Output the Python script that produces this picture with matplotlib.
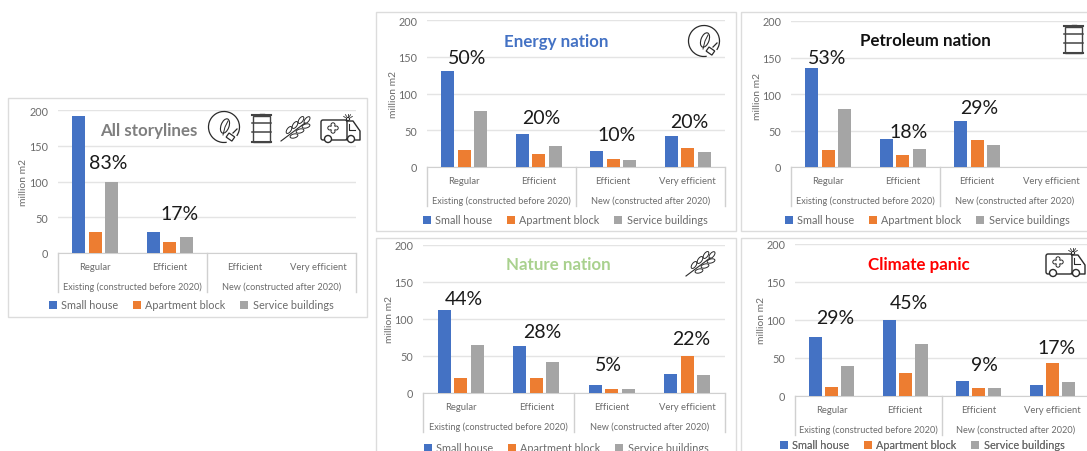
import matplotlib
matplotlib.use('Agg')
import matplotlib.pyplot as plt
from matplotlib.patches import Arc, Circle, Ellipse, FancyBboxPatch, Rectangle
import numpy as np

plt.rcParams['font.family'] = ['Lato', 'DejaVu Sans']

categories = ['Regular', 'Efficient', 'Efficient', 'Very efficient']
groups = ['Existing (constructed before 2020)', 'New (constructed after 2020)']
series_names = ['Small house', 'Apartment block', 'Service buildings']
yticks = [0, 50, 100, 150, 200]

all_small = [191, 29, 0, 0]
all_apartment = [30, 16, 0, 0]
all_service = [100, 22, 0, 0]
all_pct = ['83%', '17%']

energy_small = [131, 45, 21.5, 42.5]
energy_apartment = [23, 17.5, 11.5, 26]
energy_service = [76, 29, 10, 20]
energy_pct = ['50%', '20%', '10%', '20%']

petroleum_small = [136, 39, 63, 0]
petroleum_apartment = [23, 16, 37.5, 0]
petroleum_service = [80, 25, 30, 0]
petroleum_pct = ['53%', '18%', '29%']

nature_small = [112, 64, 10.5, 26]
nature_apartment = [20, 20.5, 5.5, 50]
nature_service = [65, 42, 5, 24]
nature_pct = ['44%', '28%', '5%', '22%']

panic_small = [78, 100, 20, 15]
panic_apartment = [12, 30, 10, 44]
panic_service = [40, 69, 10, 18]
panic_pct = ['29%', '45%', '9%', '17%']

colors = ['#4472C4', '#ED7D31', '#A5A5A5']
TEXT = '#6b6b6b'
DARK = '#2a2a2a'
W, H = 1087, 452

fig = plt.figure(figsize=(W / 100, H / 100), dpi=100)

# everything that is not a bar goes on this one, in pixel coordinates
over = fig.add_axes([0, 0, 1, 1], zorder=10)
over.set_xlim(0, W)
over.set_ylim(H, 0)
over.axis('off')
over.patch.set_alpha(0)


def leaf_icon(cx, cy):
    over.add_patch(Arc((cx, cy), 31, 31, theta1=80, theta2=395, color=DARK, lw=0.9))
    over.add_patch(Ellipse((cx + 1, cy - 1), 8, 15, angle=20, fc='white', ec=DARK, lw=0.8))
    over.plot([cx - 1, cx + 1, cx + 4], [cy + 8, cy, cy - 6], color=DARK, lw=0.7)
    over.add_patch(Rectangle((cx + 5, cy + 6), 7, 5, angle=35, fc='white', ec=DARK, lw=0.9))
    over.plot([cx + 9, cx + 13], [cy + 6, cy + 2], color=DARK, lw=0.9)


def barrel_icon(cx, cy):
    over.add_patch(Rectangle((cx - 8.5, cy - 12), 17, 26, fc='white', ec='#444444', lw=1))
    for dy, lw in [(-13, 1.5), (-5, 1.1), (4, 1.1), (14, 1.5)]:
        over.plot([cx - 9.5, cx + 9.5], [cy + dy, cy + dy], color='#444444', lw=lw)
    over.plot([cx - 1, cx + 3], [cy - 14.5, cy - 14.5], color='#444444', lw=1)


def wheat_icon(cx, cy):
    over.plot([cx - 15, cx + 9], [cy + 12, cy - 6], color=DARK, lw=0.8)
    for k in range(3):
        bx = cx - 6 + k * 6
        by = cy + 5 - k * 5
        over.add_patch(Ellipse((bx - 1, by - 4), 8, 4, angle=-55, fc='white', ec=DARK, lw=0.7))
        over.add_patch(Ellipse((bx + 4, by + 2), 8, 4, angle=-15, fc='white', ec=DARK, lw=0.7))
    over.add_patch(Ellipse((cx + 11, cy - 9), 8, 4, angle=-50, fc='white', ec=DARK, lw=0.7))


def ambulance_icon(cx, cy):
    over.add_patch(FancyBboxPatch((cx - 18, cy - 9), 26, 20, boxstyle='round,pad=0,rounding_size=2', fc='white', ec=DARK, lw=1))
    over.plot([cx + 8, cx + 14, cx + 21, cx + 21, cx + 8], [cy - 8, cy - 8, cy + 2, cy + 11, cy + 11], color=DARK, lw=1)
    over.plot([cx + 10, cx + 10, cx + 16], [cy - 5, cy + 1, cy + 1], color=DARK, lw=0.8)
    over.add_patch(Circle((cx - 11, cy + 10), 3.5, fc='white', ec=DARK, lw=1, zorder=3))
    over.add_patch(Circle((cx + 12, cy + 10), 3.5, fc='white', ec=DARK, lw=1, zorder=3))
    for dx, dy in [(0, -3.2), (0, 3.2), (-3.2, 0), (3.2, 0)]:
        over.add_patch(Circle((cx - 6 + dx, cy - 1 + dy), 2, fc='white', ec=DARK, lw=0.7))
    over.add_patch(Circle((cx - 6, cy - 1), 2.2, fc='white', ec='none', zorder=3))
    over.add_patch(Circle((cx + 9, cy - 10), 1.6, fc='white', ec=DARK, lw=0.8))
    for a in [-60, -90, -120, -30, -150]:
        over.plot([cx + 9 + 3 * np.cos(np.radians(a)), cx + 9 + 5 * np.cos(np.radians(a))],
                  [cy - 10 + 3 * np.sin(np.radians(a)), cy - 10 + 5 * np.sin(np.radians(a))], color=DARK, lw=0.6)


def draw_panel(small, apartment, service, pct, pct_xy, title, title_color, title_xy,
               frame, box, ylab_xy, legend_xy, icons):
    # frame and box are left, top, right, bottom in pixels
    over.add_patch(Rectangle((frame[0], frame[1]), frame[2] - frame[0], frame[3] - frame[1],
                             fc='none', ec='#dcdcdc', lw=1))
    left, top, right, bottom = box
    ax = fig.add_axes([left / W, 1 - bottom / H, (right - left) / W, (bottom - top) / H])
    x = np.arange(4)
    for i, vals in enumerate([small, apartment, service]):
        ax.bar(x + (i - 1) * 0.22, vals, 0.175, color=colors[i], label=series_names[i], zorder=3)
    ax.set_xlim(-0.5, 3.5)
    ax.set_ylim(0, 200)
    ax.set_yticks(yticks)
    ax.set_xticks(x)
    ax.set_xticklabels(categories, fontsize=6.8, color=TEXT)
    ax.tick_params(axis='x', length=0, pad=6.5)
    ax.tick_params(axis='y', length=0, pad=7, labelsize=7.8, labelcolor=TEXT)
    ax.grid(axis='y', color='#e4e4e4', lw=1, zorder=0)
    ax.set_axisbelow(True)
    for s in ['top', 'right', 'left']:
        ax.spines[s].set_visible(False)
    ax.spines['bottom'].set_color('#d0d0d0')

    # two level category axis
    mid = (left + right) / 2
    for vx in [left, mid, right]:
        over.plot([vx, vx], [bottom, bottom + 39], color='#d0d0d0', lw=1)
    over.text((left + mid) / 2, bottom + 33, groups[0], ha='center', va='center', fontsize=6.55, color=TEXT)
    over.text((mid + right) / 2, bottom + 33, groups[1], ha='center', va='center', fontsize=6.55, color=TEXT)

    over.text(ylab_xy[0] + 1.5, ylab_xy[1], 'million m2', rotation=90, ha='center', va='center', fontsize=7.4, color=TEXT)
    over.text(title_xy[0], title_xy[1] + 1.5, title, ha='center', va='center', fontsize=12.2, fontweight='bold', color=title_color)
    for label, (px, py) in zip(pct, pct_xy):
        over.text(px, py + 1, label, ha='center', va='center', fontsize=14, color='#1a1a1a')

    handles, labels = ax.get_legend_handles_labels()
    over.legend(handles, labels, loc='center', bbox_to_anchor=legend_xy, bbox_transform=over.transData,
                ncol=3, frameon=False, fontsize=7.8, labelcolor=TEXT, handlelength=0.75, handleheight=0.75,
                handletextpad=0.4, columnspacing=1.35, borderpad=0, borderaxespad=0)
    # more than one panel needs a legend on the overlay
    over.add_artist(over.get_legend())
    for func, cx, cy in icons:
        func(cx, cy)


draw_panel(all_small, all_apartment, all_service, all_pct,
           [(108, 163), (180, 214)],
           'All storylines', '#7f7f7f', (149, 130),
           (8, 99, 367, 318), (58, 111, 356, 254), (22, 183), (191, 306),
           [(leaf_icon, 224, 128), (barrel_icon, 261, 129), (wheat_icon, 296, 130), (ambulance_icon, 339, 130)])

draw_panel(energy_small, energy_apartment, energy_service, energy_pct,
           [(467, 57), (541, 118), (617, 135), (689, 121)],
           'Energy nation', '#4472C4', (556, 40),
           (376, 13, 736, 232), (427, 21, 725, 168), (392, 95), (565, 221),
           [(leaf_icon, 704, 42)])

draw_panel(petroleum_small, petroleum_apartment, petroleum_service, petroleum_pct,
           [(827, 57), (909, 132), (979, 108)],
           'Petroleum nation', '#111111', (925, 40),
           (741, 13, 1095, 232), (791, 22, 1089, 168), (756, 96), (927, 221),
           [(barrel_icon, 1073, 40)])

draw_panel(nature_small, nature_apartment, nature_service, nature_pct,
           [(464, 299), (542, 332), (608, 365), (691, 339)],
           'Nature nation', '#A9D18E', (558, 264),
           (376, 239, 736, 470), (423, 246, 725, 394), (388, 320), (566, 449),
           [(wheat_icon, 701, 265)])

draw_panel(panic_small, panic_apartment, panic_service, panic_pct,
           [(835, 318), (909, 303), (984, 365), (1057, 348)],
           'Climate panic', '#FF0000', (919, 264),
           (741, 239, 1095, 470), (795, 245, 1089, 397), (760, 321), (922, 446),
           [(ambulance_icon, 1064, 264)])

fig.savefig('out.png', dpi=100)
